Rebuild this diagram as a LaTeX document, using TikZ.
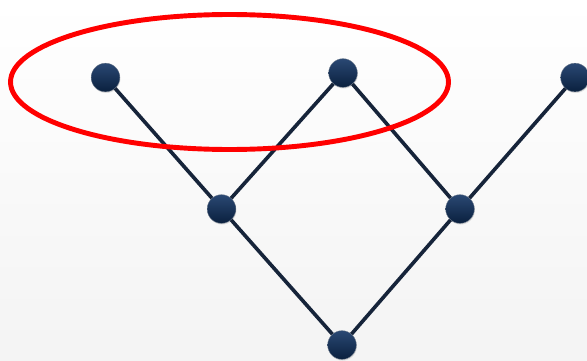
\documentclass[tikz,border=0pt]{standalone}
\usepackage{xcolor}
\usepackage{tikz}
\usetikzlibrary{shadows}

\definecolor{navytop}{RGB}{42,72,115}
\definecolor{navybot}{RGB}{10,32,62}
\definecolor{wire}{RGB}{22,36,58}

\begin{document}
\begin{tikzpicture}[
    x=0.03cm, y=-0.03cm,
    dot/.style={circle, inner sep=0pt, minimum size=0.86cm,
                top color=navytop, bottom color=navybot, draw=navybot!60, line width=0.3pt,
                drop shadow={opacity=0.25, shadow xshift=0.5pt, shadow yshift=-1pt}},
    edge/.style={draw=wire, line width=3.1pt},
    ring/.style={draw=red, line width=4.2pt}
]
% Page and background
\useasboundingbox (0,0) rectangle (587,360);
\clip (0,0) rectangle (587,360);
\shade[top color=white, bottom color=gray!9] (0,0) rectangle (587,360);
% Top row
\node[dot] (top_l) at (105.5,77.5) {};
\node[dot] (top_m) at (343,73) {};
\node[dot] (top_r) at (575,77.5) {};
% Middle row
\node[dot] (mid_l) at (221.5,209) {};
\node[dot] (mid_r) at (460,209) {};
% Bottom
\node[dot] (bot) at (342,345) {};
% Edges
\draw[edge] (top_l) -- (mid_l);
\draw[edge] (top_m) -- (mid_l);
\draw[edge] (top_m) -- (mid_r);
\draw[edge] (top_r) -- (mid_r);
\draw[edge] (mid_l) -- (bot);
\draw[edge] (mid_r) -- (bot);
% Highlight
\draw[ring] (229.5,82) ellipse [x radius=219, y radius=67.5];
\end{tikzpicture}
\end{document}
